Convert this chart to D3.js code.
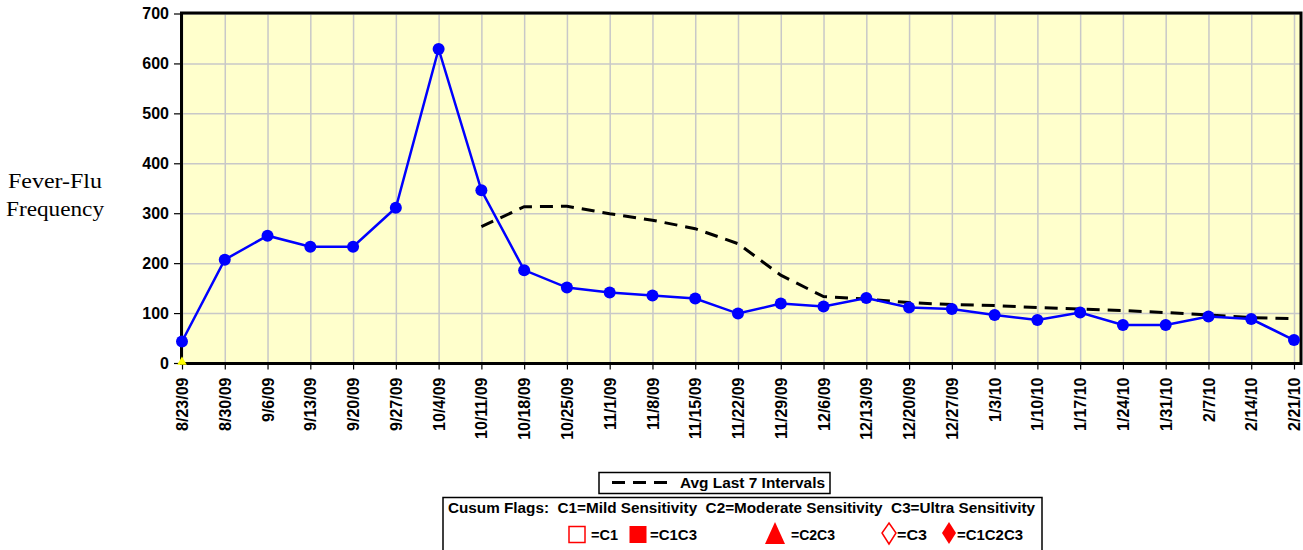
<!DOCTYPE html>
<html><head><meta charset="utf-8">
<script src="https://cdn.jsdelivr.net/npm/d3@7"></script>
<style>
html,body{margin:0;padding:0;background:#fff;}
svg{display:block;}
</style></head>
<body>
<svg id="chart" width="1303" height="550"></svg>
<script>
const dates = ["8/23/09","8/30/09","9/6/09","9/13/09","9/20/09","9/27/09","10/4/09","10/11/09","10/18/09","10/25/09","11/1/09","11/8/09","11/15/09","11/22/09","11/29/09","12/6/09","12/13/09","12/20/09","12/27/09","1/3/10","1/10/10","1/17/10","1/24/10","1/31/10","2/7/10","2/14/10","2/21/10"];
const frequency = [43,207,255,233,233,311,629,346,186,151,141,135,129,99,119,113,130,111,108,96,86,101,76,76,93,88,46];
const avgLast7 = [null,null,null,null,null,null,null,273,313,314,299,286,269,239,176,133,128,121,117,115,111,108,105,101,96,91,89];
const yTicks = [0,100,200,300,400,500,600,700];
const flagC2C3Yellow = [{date:"8/23/09", value:0}];

(function(){
const svg = d3.select("#chart");
const pLeft=182, pRight=1294, frameRight=1301, pTop=13.5, pBottom=363;
const x = d3.scalePoint().domain(dates).range([pLeft,pRight]);
const y = d3.scaleLinear().domain([0,700]).range([pBottom,pTop]);
const font = "Liberation Sans, Arial, sans-serif";

// plot background
svg.append("rect").attr("x",pLeft).attr("y",pTop).attr("width",frameRight-pLeft).attr("height",pBottom-pTop).attr("fill","#FFFFCC");

// gridlines
const gy = svg.append("g").attr("transform",`translate(${pLeft},0)`)
  .call(d3.axisLeft(y).tickValues(yTicks).tickSize(-(frameRight-pLeft)).tickFormat(""));
gy.select(".domain").remove();
gy.selectAll("line").attr("stroke","#c8c8c8").attr("stroke-width",1.5);
const gx = svg.append("g").attr("transform",`translate(0,${pTop})`)
  .call(d3.axisBottom(x).tickSize(pBottom-pTop).tickFormat(""));
gx.select(".domain").remove();
gx.selectAll("line").attr("stroke","#c8c8c8").attr("stroke-width",1.5);

// frame
svg.append("rect").attr("x",pLeft-0.5).attr("y",pTop-0.5).attr("width",frameRight-pLeft+0.5).attr("height",pBottom-pTop+1)
  .attr("fill","none").attr("stroke","#000").attr("stroke-width",3);

// Y axis
const ay = svg.append("g").attr("transform",`translate(${pLeft-2},0)`)
  .call(d3.axisLeft(y).tickValues(yTicks).tickSize(6).tickPadding(5));
ay.select(".domain").remove();
ay.selectAll("line").attr("stroke","#000").attr("stroke-width",1.2);
ay.selectAll("text").attr("font-family",font).attr("font-weight","bold").attr("font-size","16px").attr("fill","#000");

// X axis
const ax = svg.append("g").attr("transform",`translate(0,${pBottom+1.5})`)
  .call(d3.axisBottom(x).tickSize(5));
ax.select(".domain").remove();
ax.selectAll("line").attr("stroke","#000").attr("stroke-width",1.2);
ax.selectAll("text")
  .attr("font-family",font).attr("font-weight","bold").attr("font-size","16px").attr("fill","#000")
  .attr("transform","rotate(-90)").attr("x",-13).attr("y",0).attr("dy","0.35em").style("text-anchor","end");

// y title
const yt = svg.append("text").attr("font-family","Liberation Serif, Times New Roman, serif").attr("font-size","20px").attr("fill","#000");
yt.append("tspan").attr("x",8).attr("y",188).attr("textLength",94).attr("lengthAdjust","spacingAndGlyphs").text("Fever-Flu");
yt.append("tspan").attr("x",6).attr("y",216).attr("textLength",98).attr("lengthAdjust","spacingAndGlyphs").text("Frequency");

// avg dashed line
const avgData = dates.map((d,i)=>({d, v:avgLast7[i]})).filter(p=>p.v!==null);
svg.append("path").datum(avgData)
  .attr("d", d3.line().x(p=>x(p.d)).y(p=>y(p.v)))
  .attr("fill","none").attr("stroke","#000").attr("stroke-width",3).attr("stroke-dasharray","13,8");

// frequency line
const freqData = dates.map((d,i)=>({d, v:frequency[i]}));
svg.append("path").datum(freqData)
  .attr("d", d3.line().x(p=>x(p.d)).y(p=>y(p.v)))
  .attr("fill","none").attr("stroke","#0000FF").attr("stroke-width",2.5);
svg.selectAll("circle.pt").data(freqData).enter().append("circle").attr("class","pt")
  .attr("cx",p=>x(p.d)).attr("cy",p=>y(p.v)).attr("r",6).attr("fill","#0000FF");

// yellow flag triangle
svg.selectAll("path.flag").data(flagC2C3Yellow).enter().append("path").attr("class","flag")
  .attr("d", d3.symbol().type(d3.symbolTriangle).size(40))
  .attr("transform",p=>`translate(${x(p.date)},${y(p.value)-1})`)
  .attr("fill","#FFFF00");

// legends
svg.append("rect").attr("x",599).attr("y",472.5).attr("width",231).attr("height",21).attr("fill","#fff").attr("stroke","#000").attr("stroke-width",1.5);
svg.append("line").attr("x1",612).attr("x2",668).attr("y1",482.5).attr("y2",482.5).attr("stroke","#000").attr("stroke-width",3).attr("stroke-dasharray","13,8");
svg.append("text").attr("x",680).attr("y",488).attr("font-family",font).attr("font-weight","bold").attr("font-size","14px").attr("textLength",145).attr("lengthAdjust","spacingAndGlyphs").text("Avg Last 7 Intervals");

svg.append("rect").attr("x",443).attr("y",497.5).attr("width",599).attr("height",60).attr("fill","#fff").attr("stroke","#000").attr("stroke-width",1.5);
svg.append("text").attr("x",448).attr("y",513).attr("font-family",font).attr("font-weight","bold").attr("font-size","14px")
  .attr("textLength",587).attr("lengthAdjust","spacingAndGlyphs").attr("xml:space","preserve")
  .text("Cusum Flags:  C1=Mild Sensitivity  C2=Moderate Sensitivity  C3=Ultra Sensitivity");

const red="#FF0000";
svg.append("rect").attr("x",569).attr("y",526.5).attr("width",16).attr("height",16).attr("fill","#fff").attr("stroke",red).attr("stroke-width",1.5);
svg.append("rect").attr("x",629.5).attr("y",526).attr("width",17).attr("height",17).attr("fill",red);
svg.append("path").attr("d","M775,522 L785,544 L765,544 Z").attr("fill",red);
svg.append("path").attr("d","M889,523 L896,533 L889,544 L882,533 Z").attr("fill","#fff").attr("stroke",red).attr("stroke-width",1.5);
svg.append("path").attr("d","M949,522 L956,533 L949,544 L942,533 Z").attr("fill",red);
const legItems = [["=C1",591,27],["=C1C3",650,47],["=C2C3",791,44],["=C3",897,30],["=C1C2C3",957,66]];
legItems.forEach(([t,xx,w])=>{
  svg.append("text").attr("x",xx).attr("y",540).attr("font-family",font).attr("font-weight","bold").attr("font-size","14px")
    .attr("textLength",w).attr("lengthAdjust","spacingAndGlyphs").text(t);
});
})();
</script>
</body></html>
